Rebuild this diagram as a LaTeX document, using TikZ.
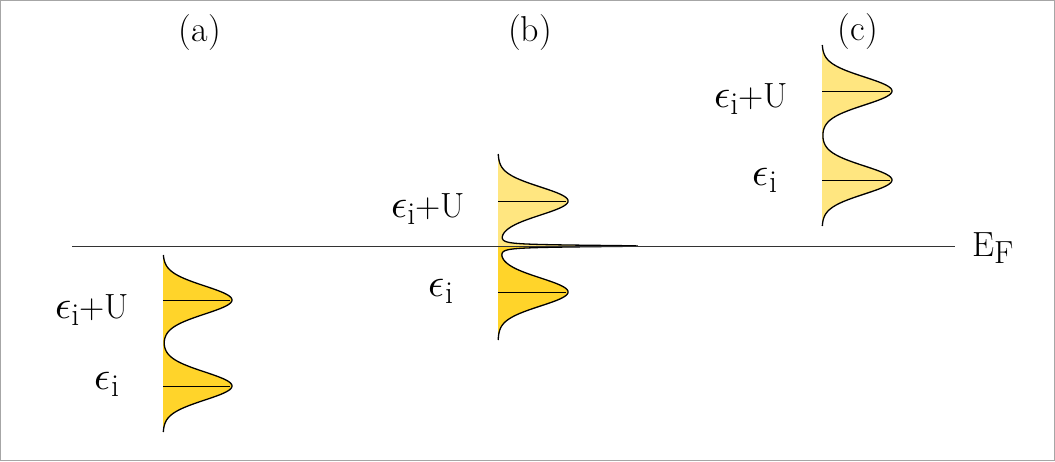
\documentclass[tikz,border=0pt]{standalone}
\usepackage{fontspec}
\usepackage{unicode-math}
\definecolor{occ}{HTML}{FFD42A}
\definecolor{emp}{HTML}{FFE680}
\newcommand{\epsii}{{\fontsize{40}{44}\selectfont$\epsilon$}\raisebox{-7pt}{\fontsize{32}{36}\selectfont i}}
\tikzset{
  curve/.style={draw=black, line width=1.3pt},
  level/.style={draw=black, line width=0.9pt},
  lbl/.style={font=\fontsize{36}{40}\selectfont, inner sep=0pt, anchor=base},
  elbl/.style={font=\fontsize{35}{40}\selectfont, inner sep=0pt, anchor=base},
}
\begin{document}
\begin{tikzpicture}[x=1pt,y=-1pt,
  declare function={G(\t,\c)=exp(-0.5*((\t-\c)/14)^2); K(\t)=1/(1+((\t-246)/1.0)^2);}]
\useasboundingbox (0,0) rectangle (1055,461);
\draw[gray!70, line width=1pt] (0.5,0.5) rectangle (1054.5,460.5);

% panel (a)
\fill[occ] (163,255) -- plot[domain=255:432, samples=160, variable=\t] ({163+69*(G(\t,300)+G(\t,386))},\t) -- (163,432) -- cycle;
\draw[curve] plot[domain=255:432, samples=160, variable=\t] ({163+69*(G(\t,300)+G(\t,386))},\t);
\draw[level] (163,300) -- (230,300);
\draw[level] (163,386) -- (230,386);

% panel (c)
\fill[emp] (822,45) -- plot[domain=45:226, samples=160, variable=\t] ({822+70*(G(\t,91)+G(\t,180))},\t) -- (822,226) -- cycle;
\draw[curve] plot[domain=45:226, samples=160, variable=\t] ({822+70*(G(\t,91)+G(\t,180))},\t);
\draw[level] (822,91) -- (890,91);
\draw[level] (822,180) -- (890,180);

% panel (b)
\fill[emp] (498,154) -- plot[domain=154:238, samples=90, variable=\t] ({498+70*(G(\t,201)+G(\t,292))+139*K(\t)},\t)
  -- plot[domain=238:246, samples=61, variable=\t] ({498+70*(G(\t,201)+G(\t,292))+139*K(\t)},\t) -- (498,246) -- cycle;
\fill[occ] (498,246) -- plot[domain=246:254, samples=61, variable=\t] ({498+70*(G(\t,201)+G(\t,292))+139*K(\t)},\t)
  -- plot[domain=254:340, samples=90, variable=\t] ({498+70*(G(\t,201)+G(\t,292))+139*K(\t)},\t) -- (498,340) -- cycle;
\draw[curve] plot[domain=154:238, samples=90, variable=\t] ({498+70*(G(\t,201)+G(\t,292))+139*K(\t)},\t)
  -- plot[domain=238:254, samples=121, variable=\t] ({498+70*(G(\t,201)+G(\t,292))+139*K(\t)},\t)
  -- plot[domain=254:340, samples=90, variable=\t] ({498+70*(G(\t,201)+G(\t,292))+139*K(\t)},\t);
\draw[level] (498,201) -- (566,201);
\draw[level] (498,292) -- (566,292);

% Fermi level
\coordinate (fl) at (72,246);
\coordinate (fr) at (955,246);
\draw[black!80, line width=1pt] (fl) -- (fr);
\node[anchor=base west, inner sep=0pt, font=\fontsize{35}{40}\selectfont] (ef) at (972,256) {E\raisebox{-7pt}{\fontsize{32}{36}\selectfont F}};

% titles
\node[lbl] (ta) at (200,41) {(a)};
\node[lbl] (tb) at (530,41) {(b)};
\node[lbl] (tc) at (858,40) {(c)};

% level labels
\node[elbl] (a1) at (92,318) {\epsii+U};
\node[elbl] (a2) at (107,389) {\epsii};
\node[elbl] (b1) at (428,217) {\epsii+U};
\node[elbl] (b2) at (441,296) {\epsii};
\node[elbl] (c1) at (751,107) {\epsii+U};
\node[elbl] (c2) at (765,185) {\epsii};
\end{tikzpicture}
\end{document}
